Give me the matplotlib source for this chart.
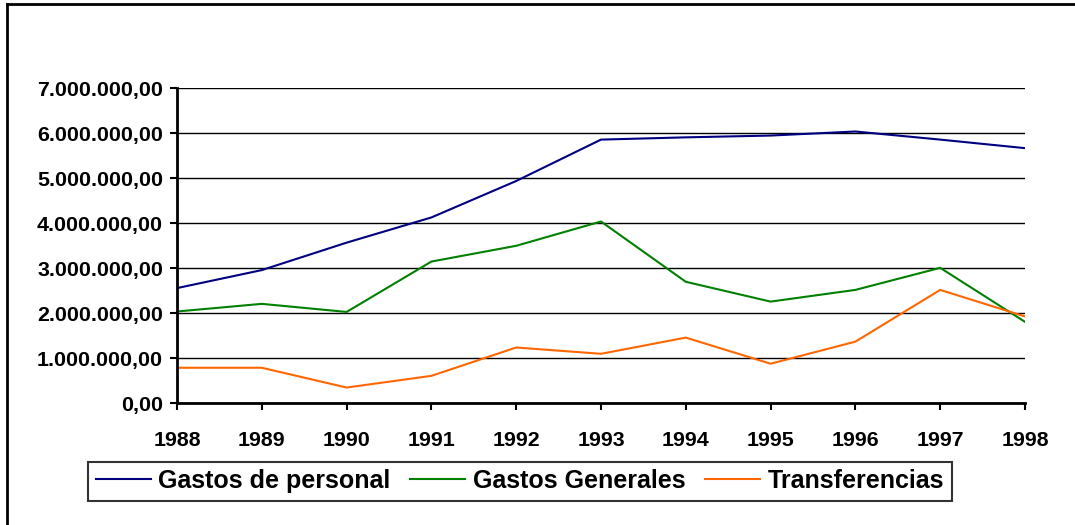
import matplotlib
matplotlib.use("Agg")
import matplotlib.pyplot as plt
from matplotlib.lines import Line2D
from matplotlib.ticker import FuncFormatter

# Datos
anios = [1988, 1989, 1990, 1991, 1992, 1993, 1994, 1995, 1996, 1997, 1998]
gastos_personal = [2560000, 2960000, 3570000, 4130000, 4940000, 5860000,
                   5910000, 5950000, 6040000, 5860000, 5670000]
gastos_generales = [2040000, 2210000, 2030000, 3150000, 3500000, 4040000,
                    2700000, 2260000, 2520000, 3010000, 1810000]
transferencias = [790000, 790000, 350000, 610000, 1240000, 1100000,
                  1460000, 880000, 1370000, 2520000, 1930000]
etiquetas = ["Gastos de personal", "Gastos Generales", "Transferencias"]
colores = ["#000080", "#008000", "#FF6600"]

plt.rcParams["font.family"] = ["Liberation Sans", "DejaVu Sans"]
plt.rcParams["font.weight"] = "bold"

W, H = 1075, 525
fig = plt.figure(figsize=(W / 100, H / 100), dpi=100)

# marco exterior
fig.add_artist(Line2D([7 / W, 7 / W], [0, 1 - 4 / H], color="black", lw=2,
                      transform=fig.transFigure))
fig.add_artist(Line2D([7 / W, 1], [1 - 4 / H, 1 - 4 / H], color="black", lw=2,
                      transform=fig.transFigure))

left, right, top, bottom = 177, 1025, 88.3, 403.3
ax = fig.add_axes([left / W, 1 - bottom / H, (right - left) / W, (bottom - top) / H])

for serie, nombre, c in zip([gastos_personal, gastos_generales, transferencias],
                            etiquetas, colores):
    ax.plot(anios, serie, color=c, lw=1.5, label=nombre)

ax.set_xlim(anios[0], anios[-1])
ax.set_ylim(0, 7000000)
ax.set_xticks(anios)
ax.set_yticks(range(0, 7000001, 1000000))

def fmt(v, pos):
    s = f"{int(v):,}".replace(",", ".")
    return s + ",00"

ax.yaxis.set_major_formatter(FuncFormatter(fmt))
ax.grid(axis="y", color="black", lw=1)
ax.set_axisbelow(True)
for s in ["top", "right"]:
    ax.spines[s].set_visible(False)
for s in ["left", "bottom"]:
    ax.spines[s].set_linewidth(2)
ax.tick_params(axis="both", direction="out", length=5, width=1.5, labelsize=15.4)
ax.tick_params(axis="x", pad=15)
ax.tick_params(axis="y", pad=5)
for t in ax.get_xticklabels() + ax.get_yticklabels():
    t.set_fontweight("bold")

leg = fig.legend(loc="center", bbox_to_anchor=(520 / W, 1 - 481 / H), ncol=3,
                 prop={"size": 18, "weight": "bold"}, frameon=True, fancybox=False,
                 handlelength=2.2, handletextpad=0.3, columnspacing=0.8,
                 borderpad=0.3, borderaxespad=0)
leg.get_frame().set_edgecolor("black")
leg.get_frame().set_linewidth(1.5)

fig.savefig("out.png", dpi=100)
